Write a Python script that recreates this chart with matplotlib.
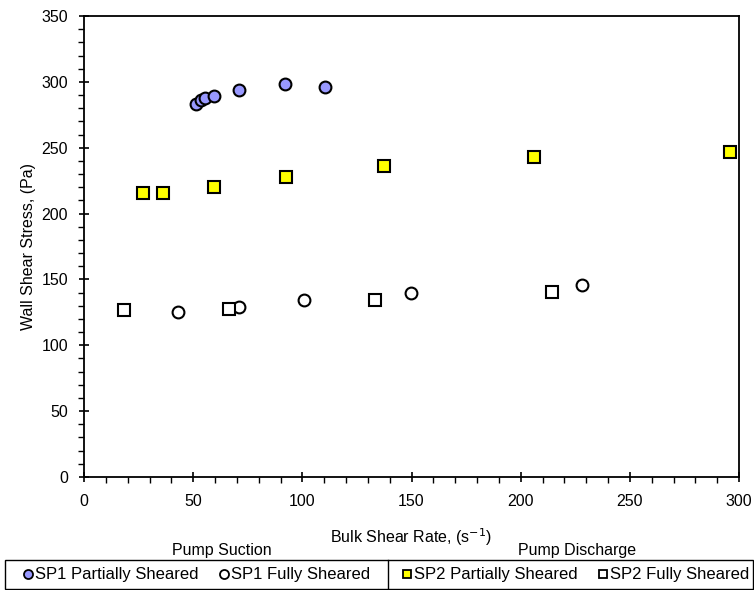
import matplotlib
matplotlib.use("Agg")
import matplotlib.pyplot as plt
from matplotlib.lines import Line2D
from matplotlib.patches import Rectangle
import numpy as np

plt.rcParams['font.family'] = ['Liberation Sans', 'DejaVu Sans']

# Data
sp1_partial_x = [51.5, 53.5, 55.6, 59.4, 71.0, 92.2, 110.4]
sp1_partial_y = [283.0, 286.0, 287.6, 289.3, 294.1, 298.6, 295.9]
sp1_full_x = [42.9, 70.9, 100.7, 149.8, 228.2]
sp1_full_y = [125.1, 129.1, 134.2, 139.5, 145.8]
sp2_partial_x = [27.0, 36.3, 59.6, 92.7, 137.5, 206.3, 295.7]
sp2_partial_y = [215.6, 215.4, 220.2, 228.0, 236.2, 242.8, 246.8]
sp2_full_x = [18.5, 66.3, 133.2, 214.5]
sp2_full_y = [126.8, 127.6, 134.2, 140.5]

x_ticks = [0, 50, 100, 150, 200, 250, 300]
y_ticks = [0, 50, 100, 150, 200, 250, 300, 350]

W, H = 754, 590
FS = 11.5
fig = plt.figure(figsize=(W/100, H/100), dpi=100)
ax = fig.add_axes([84/W, 1-477/H, (739-84)/W, (477-16)/H])

ms = 8.5
mew = 1.5
ax.plot(sp1_partial_x, sp1_partial_y, 'o', ms=ms, mfc='#9999FF', mec='black', mew=mew, ls='none', clip_on=False)
ax.plot(sp1_full_x, sp1_full_y, 'o', ms=ms, mfc='white', mec='black', mew=mew, ls='none', clip_on=False)
ax.plot(sp2_partial_x, sp2_partial_y, 's', ms=ms-0.5, mfc='#FFFF00', mec='black', mew=mew, ls='none', clip_on=False)
ax.plot(sp2_full_x, sp2_full_y, 's', ms=ms-0.5, mfc='white', mec='black', mew=mew, ls='none', clip_on=False)

ax.set_xlim(0, 300)
ax.set_ylim(0, 350)
ax.set_xticks(x_ticks)
ax.set_yticks(y_ticks)
ax.set_xticks(np.arange(0, 301, 10), minor=True)
ax.set_yticks(np.arange(0, 351, 10), minor=True)
ax.tick_params(which='major', direction='inout', length=7, width=1.2, labelsize=FS)
ax.tick_params(axis='y', which='major', pad=8)
ax.tick_params(axis='x', which='major', pad=9)
ax.tick_params(which='minor', direction='out', length=4, width=1.0)
for s in ax.spines.values():
    s.set_linewidth(1.3)

ax.set_xlabel('Bulk Shear Rate, (s$^{-1}$)', fontsize=FS, labelpad=12)
ax.set_ylabel('Wall Shear Stress, (Pa)', fontsize=FS, labelpad=4)

# Legend area
fig.text(222/W, 1-551/H, 'Pump Suction', ha='center', va='center', fontsize=FS)
fig.text(577/W, 1-551/H, 'Pump Discharge', ha='center', va='center', fontsize=FS)
fig.patches.append(Rectangle((5/W, 1-589/H), (753-5)/W, (589-560)/H, transform=fig.transFigure,
                             fill=False, ec='black', lw=1.0))
fig.lines.append(Line2D([388/W, 388/W], [1-589/H, 1-560/H], transform=fig.transFigure, color='black', lw=1.0))

lms = 6.5
LFS = 12
h1 = [Line2D([], [], marker='o', ls='none', ms=lms, mfc='#9999FF', mec='black', mew=1.3),
      Line2D([], [], marker='o', ls='none', ms=lms, mfc='white', mec='black', mew=1.3)]
h2 = [Line2D([], [], marker='s', ls='none', ms=lms-0.5, mfc='#FFFF00', mec='black', mew=1.3),
      Line2D([], [], marker='s', ls='none', ms=lms-0.5, mfc='white', mec='black', mew=1.3)]
fig.legend(h1, ['SP1 Partially Sheared', 'SP1 Fully Sheared'], ncol=2, frameon=False,
           loc='center', bbox_to_anchor=(197/W, 1-575/H), fontsize=LFS,
           handlelength=0.5, handletextpad=0.15, columnspacing=1.3, borderpad=0)
fig.legend(h2, ['SP2 Partially Sheared', 'SP2 Fully Sheared'], ncol=2, frameon=False,
           loc='center', bbox_to_anchor=(576/W, 1-575/H), fontsize=LFS,
           handlelength=0.5, handletextpad=0.15, columnspacing=1.3, borderpad=0)

fig.savefig('out.png', dpi=100)
